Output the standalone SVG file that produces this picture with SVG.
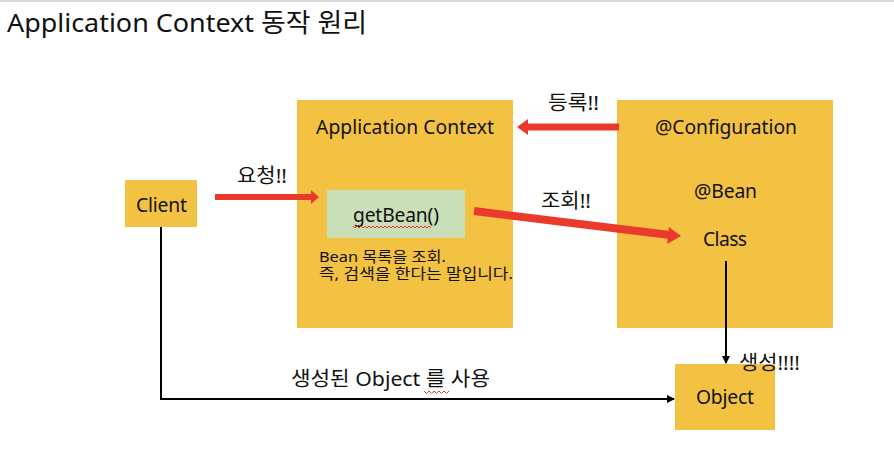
<svg xmlns="http://www.w3.org/2000/svg" width="894" height="458" viewBox="0 0 894 458">
<defs>
<style>
text{font-family:"Noto Sans","Noto Sans CJK KR",sans-serif;fill:#111;}
.box{fill:#F4C242;}
.red{stroke:#EA3A2B;fill:none;}
.redf{fill:#EA3A2B;}
.blk{stroke:#000;stroke-width:2;fill:none;}
.sq{stroke:#E23B2E;stroke-width:1;fill:none;}
.lb{font-size:19.3px;}
.kr{font-size:20px;}
.sm{font-size:14.5px;}
</style>
<marker id="ah" markerWidth="8" markerHeight="8" refX="7" refY="4" orient="auto" markerUnits="userSpaceOnUse">
<path d="M0,0 L8,4 L0,8 z" fill="#000"/>
</marker>
</defs>
<rect width="894" height="458" fill="#fff"/>
<rect x="0" y="0" width="894" height="2" fill="#D9D9D9"/>
<text x="7" y="32" font-size="26" textLength="360" lengthAdjust="spacingAndGlyphs">Application Context 동작 원리</text>

<g id="client">
<rect class="box" x="125" y="180" width="72" height="47"/>
<text class="lb" x="136" y="212" textLength="51">Client</text>
</g>

<g id="appcontext">
<rect class="box" x="297" y="100" width="216" height="228"/>
<text class="lb" x="316" y="134" textLength="178">Application Context</text>
<g id="getbean">
<rect x="327" y="190" width="138" height="48" fill="#C8DFB8"/>
<text class="lb" x="353" y="222" textLength="86">getBean()</text>
<path class="sq" d="M353,226 l2,2 l2,-2 l2,2 l2,-2 l2,2 l2,-2 l2,2 l2,-2 l2,2 l2,-2 l2,2 l2,-2 l2,2 l2,-2 l2,2 l2,-2 l2,2 l2,-2 l2,2 l2,-2 l2,2 l2,-2 l2,2 l2,-2 l2,2 l2,-2 l2,2 l2,-2 l2,2 l2,-2 l2,2 l2,-2 l2,2 l2,-2 l2,2 l2,-2 l2,2 l2,-2 l2,2"/>
</g>
<text class="sm" x="319" y="262" textLength="127" lengthAdjust="spacingAndGlyphs">Bean 목록을 조회.</text>
<text class="sm" x="319" y="279" textLength="194" lengthAdjust="spacingAndGlyphs">즉, 검색을 한다는 말입니다.</text>
</g>

<g id="configuration">
<rect class="box" x="617" y="100" width="216" height="228"/>
<text class="lb" x="655" y="134" textLength="142">@Configuration</text>
<text class="lb" x="694" y="198" textLength="63">@Bean</text>
<text class="lb" x="703" y="246" textLength="44">Class</text>
</g>

<g id="object">
<rect class="box" x="675" y="364" width="100" height="66"/>
<text class="lb" x="696" y="404" textLength="58">Object</text>
</g>

<g id="connectors">
<line class="red" x1="215" y1="197" x2="312" y2="197" stroke-width="6"/>
<polygon class="redf" points="311,190 319,197 311,204"/>
<text class="kr" x="237" y="183" textLength="50" lengthAdjust="spacingAndGlyphs">요청!!</text>

<line class="red" x1="619" y1="127" x2="526" y2="127" stroke-width="7"/>
<polygon class="redf" points="528,119 517,127 528,135"/>
<text class="kr" x="548" y="110" textLength="51" lengthAdjust="spacingAndGlyphs">등록!!</text>

<line class="red" x1="474" y1="211" x2="670" y2="235" stroke-width="8"/>
<polygon class="redf" points="669,227 681,236 667,244"/>
<text class="kr" x="541" y="208" textLength="50" lengthAdjust="spacingAndGlyphs">조회!!</text>

<line class="blk" x1="726" y1="261" x2="726" y2="363" marker-end="url(#ah)"/>
<text class="kr" x="739" y="370" textLength="61" lengthAdjust="spacingAndGlyphs">생성!!!!</text>

<polyline class="blk" points="161,227 161,399 674,399" marker-end="url(#ah)"/>
<text class="kr" x="291" y="386" textLength="199" lengthAdjust="spacingAndGlyphs">생성된 Object 를 사용</text>
<path class="sq" d="M424,391 l2.5,2.5 l2.5,-2.5 l2.5,2.5 l2.5,-2.5 l2.5,2.5 l2.5,-2.5 l2.5,2.5 l2.5,-2.5 l2.5,2.5 l2.5,-2.5"/>
</g>
</svg>
